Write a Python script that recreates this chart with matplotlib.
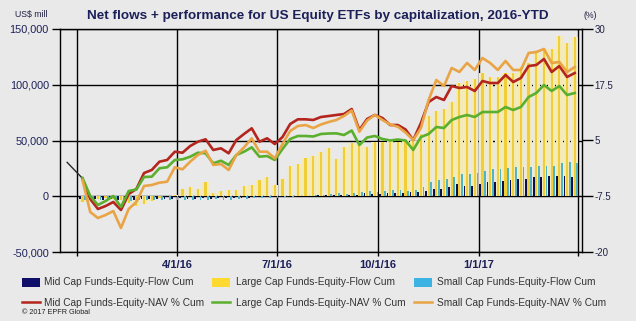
import matplotlib
matplotlib.use("Agg")
import matplotlib.pyplot as plt
import matplotlib.dates as mdates
from matplotlib.lines import Line2D
from matplotlib.patches import Rectangle
import pandas as pd
import numpy as np

plt.rcParams['font.family'] = ['Liberation Sans', 'DejaVu Sans']

# ---------------- data ----------------
dates = pd.date_range("2016-01-06", periods=65, freq="7D")

mid_flow = [-2500, -2800, -2500, -3000, -2500, -3000, -3200, -3000, -2800, -2500,
            -2500, -2200, -2500, -2000, -2200, -2500, -2000, -2200, -2000, -1800,
            -1500, -1500, -1200, -1000, -1000, -800, -500, -300, 0, 300,
            500, 1000, 1500, 1500, 1000, 1200, 1500, 2500, 2000, 2000,
            2500, 2500, 3000, 3400, 4000,
            4900, 6500, 6500, 7900, 10900, 9400, 9400, 10900, 12400, 12400,
            13300, 14500, 15400, 15400, 16900, 17500, 18400, 18400, 18400, 17500]

large_flow = [-5000, -3000, -2500, -1500, -2500, -3500, -6000, -8500, -7000, -4000,
              -1500, 500, 1500,
              6700, 8500, 6700, 12400, 3100, 4500, 5400, 5800, 9400, 10300,
              14800, 16900, 10300, 15400, 27400, 28700, 34300, 36300, 39300, 43000,
              33400, 43800, 47400, 46800, 43800, 49100, 49100, 49800, 49100, 50400,
              49800, 56000,
              72200, 76700, 78200, 84100, 102000, 103600, 105100, 110100, 106600, 106600,
              110800, 110800, 116100, 119700, 128700, 132000, 132300, 144000, 137700, 142600]

small_flow = [-3000, -3500, -3000, -3500, -3000, -3500, -4000, -3500, -3500, -3000,
              -3000, -3000, -3500, -3000, -3000, -3500, -3000, -2500, -3000, -3000,
              -2500, -2500, -2000, -2000, -1500, -1500,
              -1000, -500, 0, 500, 1000, 1500, 2000, 2500, 2000, 2500,
              3400, 4900, 4000, 4500, 5600, 5600, 5000, 6000, 7900,
              12400, 14500, 15400, 17500, 19900, 20400, 21300, 22900, 24400, 24400,
              25300, 25800, 26500, 26500, 27400, 27400, 27400, 29400, 30300, 29400]

mid_nav = [-3.63, -8.12, -10.36, -9.69, -8.79, -10.58, -7.0, -5.88, -2.29, -1.61,
           0.25, 0.63, 2.49, 2.26, 3.77, 4.73, 5.27, 2.87, 3.25, 2.13,
           5.11, 6.46, 7.73, 4.73, 5.49, 4.21, 5.78, 8.7, 9.75, 9.75,
           9.6, 10.27, 10.49, 10.72, 10.94, 12.06, 7.35, 9.82, 10.72, 10.04,
           8.47, 8.47, 7.47, 5.11, 8.92, 13.63, 14.75, 14.08, 17.22, 16.77,
           17.0, 16.1, 18.34, 17.89, 17.89, 19.69, 18.12, 19.01, 21.7, 21.93,
           23.27, 20.36, 21.7, 19.24, 20.13]

large_nav = [-3.41, -7.44, -9.46, -8.57, -7.44, -9.91, -6.32, -5.99, -3.18, -3.12,
             -1.23, -1.01, 0.63, 0.78, 1.37, 2.26, 2.13, -0.11, 0.47, -0.49,
             1.75, 2.49, 3.47, 1.37, 1.52, 0.63, 3.09, 5.34, 6.01, 6.01,
             5.9, 6.46, 6.57, 6.6, 6.23, 7.24, 3.99, 5.67, 6.01, 5.34,
             5.0, 5.22, 5.0, 2.87, 5.78, 6.46, 8.03, 7.8, 9.6, 10.27,
             10.72, 10.27, 11.39, 11.39, 11.39, 12.51, 11.84, 12.51, 14.75, 15.65,
             17.44, 16.1, 17.22, 15.2, 15.65]

small_nav = [-3.86, -11.03, -12.38, -11.7, -10.81, -14.62, -10.36, -8.79, -5.2, -4.98,
             -4.46, -4.24, -1.01, -1.46, 0.25, 1.75, 2.71, -0.49, -0.27, -1.61,
             1.75, 3.47, 5.49, 2.49, 2.49, 1.01, 4.21, 7.13, 8.25, 8.47,
             7.8, 8.59, 9.15, 9.6, 10.49, 11.73, 6.97, 9.48, 10.72, 9.6,
             8.59, 8.09, 6.79, 5.11, 7.8, 14.08, 18.56, 17.22, 21.26, 20.36,
             22.38, 20.81, 23.5, 22.38, 20.81, 22.83, 20.81, 20.81, 24.62, 24.84,
             25.52, 22.38, 22.6, 20.36, 21.48]

lead_dates = pd.to_datetime(["2015-12-23", "2016-01-06"])
lead_nav = [0.1, -3.5]

quarter_ticks = pd.to_datetime(["2016-01-01", "2016-04-01", "2016-07-01",
                                "2016-10-01", "2017-01-01", "2017-04-01"])
quarter_labels = ["", "4/1/16", "7/1/16", "10/1/16", "1/1/17", ""]

left_ticks = [-50000, 0, 50000, 100000, 150000]
right_ticks = [-20, -7.5, 5, 17.5, 30]
right_labels = ["-20", "-7.5", "5", "17.5", "30"]

labels = ["Mid Cap Funds-Equity-Flow Cum", "Large Cap Funds-Equity-Flow Cum",
          "Small Cap Funds-Equity-Flow Cum", "Mid Cap Funds-Equity-NAV % Cum",
          "Large Cap Funds-Equity-NAV % Cum", "Small Cap Funds-Equity-NAV % Cum"]

# ---------------- style ----------------
BG = "#E9E9E9"
NAVY = "#1C2058"
C_MID_BAR = "#0E0E48"
C_MID_LEG = "#10106A"
C_LARGE = "#F0CE3A"
C_LARGE_PALE = "#F3EAB8"
C_LARGE_LEG = "#FDD931"
C_SMALL = "#4FB5C4"
C_SMALL_LEG = "#3DB3E3"
C_RED = "#B3251D"
C_GREEN = "#5BAF2E"
C_ORANGE = "#E9A445"

W, H = 636, 321
fig = plt.figure(figsize=(W / 100, H / 100), dpi=100, facecolor=BG)


def fx(px):
    return px / W


def fy(py):
    return 1 - py / H


ax = fig.add_axes([fx(60), fy(252), fx(581.7) - fx(60), fy(29) - fy(252)])
ax.set_facecolor(BG)
x = mdates.date2num(dates)

ax.bar(x, large_flow, width=6.0, color=C_LARGE_PALE, zorder=2, linewidth=0)
ax.bar(x, large_flow, width=2.0, color=C_LARGE, zorder=3, linewidth=0)
ax.bar(x - 2.4, mid_flow, width=1.6, color=C_MID_BAR, zorder=4, linewidth=0)
ax.bar(x + 2.4, small_flow, width=1.6, color=C_SMALL, zorder=4, linewidth=0)

ax.set_xlim(mdates.date2num(pd.Timestamp("2015-12-16 12:00")),
            mdates.date2num(pd.Timestamp("2017-04-04 08:00")))
ax.set_ylim(-50000, 150000)
ax.set_yticks(left_ticks)
ax.set_yticklabels([f"{v:,}" for v in left_ticks])
ax.set_xticks(mdates.date2num(quarter_ticks))
ax.set_xticklabels(quarter_labels)
ax.grid(True, color="black", linewidth=1.0)
ax.set_axisbelow(True)
for s in ax.spines.values():
    s.set_color("black")
    s.set_linewidth(1.0)
ax.tick_params(axis="y", length=6, width=1, pad=2, labelsize=7.8, labelcolor=NAVY)
ax.tick_params(axis="x", length=3, width=1, pad=3, labelsize=8, labelcolor=NAVY)
for t in ax.get_xticklabels():
    t.set_fontweight("bold")

ax2 = ax.twinx()
ax2.set_ylim(-20, 30)
ax2.plot(mdates.date2num(lead_dates), lead_nav, color="#2a2a2a", lw=1.0, zorder=5)
ax2.plot(x, mid_nav, color=C_RED, lw=1.9, zorder=6, solid_joinstyle="round")
ax2.plot(x, large_nav, color=C_GREEN, lw=1.9, zorder=7, solid_joinstyle="round")
ax2.plot(x, small_nav, color=C_ORANGE, lw=1.9, zorder=8, solid_joinstyle="round")
ax2.set_yticks(right_ticks)
ax2.set_yticklabels(right_labels)
ax2.tick_params(axis="y", length=8, width=1, pad=1, labelsize=7, labelcolor="#222244")
for s in ax2.spines.values():
    s.set_visible(False)

# texts
fig.text(fx(318), fy(16), "Net flows + performance for US Equity ETFs by capitalization, 2016-YTD",
         ha="center", va="center", fontsize=9.7, fontweight="bold", color=NAVY)
fig.text(fx(15), fy(15), "US$ mill", ha="left", va="center", fontsize=6.3, color="#222244")
fig.text(fx(584), fy(15), "(%)", ha="left", va="center", fontsize=6.3, color="#222244")
fig.text(fx(22), fy(312), "\u00a9 2017 EPFR Global", ha="left", va="center", fontsize=5.2, color="#222222")

# legend (manual)
col_sw = [22, 212.3, 414.3]
col_tx = [44, 235.5, 436.7]
row_y = [282.3, 302.5]
bar_cols = [C_MID_LEG, C_LARGE_LEG, C_SMALL_LEG]
line_cols = [C_RED, C_GREEN, C_ORANGE]
for i in range(3):
    fig.patches.append(Rectangle((fx(col_sw[i]), fy(row_y[0] + 4.5)), 18 / W, 9 / H,
                                 transform=fig.transFigure, facecolor=bar_cols[i],
                                 edgecolor="none"))
    fig.text(fx(col_tx[i]), fy(row_y[0]), labels[i], ha="left", va="center",
             fontsize=7.3, color="#333333")
    fig.lines.append(Line2D([fx(col_sw[i]), fx(col_sw[i] + 18)], [fy(row_y[1] - 1), fy(row_y[1] - 1)],
                            transform=fig.transFigure, color=line_cols[i], lw=1.8))
    fig.text(fx(col_tx[i]), fy(row_y[1]), labels[i + 3], ha="left", va="center",
             fontsize=7.3, color="#333333")

fig.savefig("out.png", dpi=100, facecolor=BG)
